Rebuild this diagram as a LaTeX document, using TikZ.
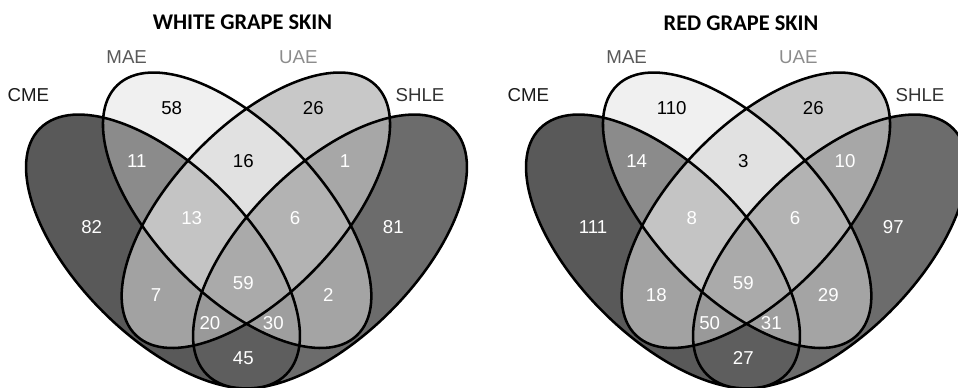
\documentclass[tikz,border=0pt]{standalone}
\usepackage{fontspec}
\setmainfont{Liberation Sans}
\newfontfamily\headfont{Carlito}

\definecolor{fillc}{HTML}{595959}
\definecolor{fillm}{HTML}{F0F0F0}
\definecolor{fillu}{HTML}{C8C8C8}
\definecolor{fills}{HTML}{6C6C6C}
\definecolor{fillcm}{HTML}{8B8B8B}
\definecolor{fillcu}{HTML}{A2A2A2}
\definecolor{fillcs}{HTML}{5E5E5E}
\definecolor{fillmu}{HTML}{E1E1E1}
\definecolor{fillms}{HTML}{A4A4A4}
\definecolor{fillus}{HTML}{A7A7A7}
\definecolor{fillcmu}{HTML}{C4C4C4}
\definecolor{fillcms}{HTML}{9E9E9E}
\definecolor{fillcus}{HTML}{999999}
\definecolor{fillmus}{HTML}{B3B3B3}
\definecolor{fillcmus}{HTML}{AAAAAA}

% the four ellipses of one diagram
\newcommand{\cmeshape}{(163,251.5) ellipse [x radius=174, y radius=85, rotate=45]}
\newcommand{\maeshape}{(237.15,210.25) ellipse [x radius=173.2, y radius=83.5, rotate=46.2]}
\newcommand{\uaeshape}{(255.85,210.25) ellipse [x radius=173.2, y radius=83.5, rotate=-46.2]}
\newcommand{\shleshape}{(330,251.5) ellipse [x radius=174, y radius=85, rotate=-45]}

% shaded regions, painted from single sets up to all four
\newcommand{\vennshades}{%
  \fill[fillc] \cmeshape;
  \fill[fillm] \maeshape;
  \fill[fillu] \uaeshape;
  \fill[fills] \shleshape;
  \begin{scope} \clip \cmeshape; \fill[fillcm] \maeshape; \end{scope}
  \begin{scope} \clip \cmeshape; \fill[fillcu] \uaeshape; \end{scope}
  \begin{scope} \clip \cmeshape; \fill[fillcs] \shleshape; \end{scope}
  \begin{scope} \clip \maeshape; \fill[fillmu] \uaeshape; \end{scope}
  \begin{scope} \clip \maeshape; \fill[fillms] \shleshape; \end{scope}
  \begin{scope} \clip \uaeshape; \fill[fillus] \shleshape; \end{scope}
  \begin{scope} \clip \cmeshape; \clip \maeshape; \fill[fillcmu] \uaeshape; \end{scope}
  \begin{scope} \clip \cmeshape; \clip \maeshape; \fill[fillcms] \shleshape; \end{scope}
  \begin{scope} \clip \cmeshape; \clip \uaeshape; \fill[fillcus] \shleshape; \end{scope}
  \begin{scope} \clip \maeshape; \clip \uaeshape; \fill[fillmus] \shleshape; \end{scope}
  \begin{scope} \clip \cmeshape; \clip \maeshape; \clip \uaeshape; \fill[fillcmus] \shleshape; \end{scope}
  \draw[vennline] \cmeshape \maeshape \uaeshape \shleshape;
}

\tikzset{
  vennline/.style={line width=1.9pt, black},
  numwhite/.style={text=white, font=\fontsize{14}{16}\selectfont},
  numblack/.style={text=black, font=\fontsize{14}{16}\selectfont},
  setlabel/.style={font=\fontsize{14}{16}\selectfont},
  heading/.style={font=\headfont\bfseries\fontsize{16.8}{20}\selectfont}
}

\begin{document}
\begin{tikzpicture}[x=0.75pt,y=0.75pt,yscale=-1,xscale=1]
        \useasboundingbox (0,0) rectangle (958,387);
        \begin{scope}
        \clip (0,0) rectangle (958,387);

        % white grape skin
        \vennshades
        \node[heading] (wtitle) at (242.5,22.5) {WHITE GRAPE SKIN};
        \node[setlabel, text=black!90] (wcme) at (28.3,95) {CME};
        \node[setlabel, text=black!65] (wmae) at (126.7,56.7) {MAE};
        \node[setlabel, text=black!45] (wuae) at (298.3,56.7) {UAE};
        \node[setlabel, text=black!80] (wshle) at (420,95) {SHLE};
        \node[numblack] (wm) at (171.7,108.3) {58};
        \node[numblack] (wu) at (313.3,108.3) {26};
        \node[numwhite] (wcm) at (136.7,160.7) {11};
        \node[numblack] (wmu) at (243.3,160.7) {16};
        \node[numwhite] (wus) at (345,160.7) {1};
        \node[numwhite] (wc) at (91.7,226.7) {82};
        \node[numwhite] (wcmu) at (191.7,218.3) {13};
        \node[numwhite] (wmus) at (295,218.3) {6};
        \node[numwhite] (ws) at (393.3,226.7) {81};
        \node[numwhite] (wall) at (243.3,283.3) {59};
        \node[numwhite] (wcu) at (156,295) {7};
        \node[numwhite] (wms) at (328.3,295) {2};
        \node[numwhite] (wcus) at (210,323.3) {20};
        \node[numwhite] (wcms) at (273.3,323.3) {30};
        \node[numwhite] (wcs) at (243.3,358.3) {45};

        % red grape skin
        \begin{scope}[shift={(500,0)}]
        \vennshades
        \node[heading] (rtitle) at (241,23) {RED GRAPE SKIN};
        \node[setlabel, text=black!90] (rcme) at (28.3,95) {CME};
        \node[setlabel, text=black!65] (rmae) at (126.7,56.7) {MAE};
        \node[setlabel, text=black!45] (ruae) at (298.3,56.7) {UAE};
        \node[setlabel, text=black!80] (rshle) at (420,95) {SHLE};
        \node[numblack] (rm) at (171.7,108.3) {110};
        \node[numblack] (ru) at (313.3,108.3) {26};
        \node[numwhite] (rcm) at (136.7,160.7) {14};
        \node[numblack] (rmu) at (243.3,160.7) {3};
        \node[numwhite] (rus) at (345,160.7) {10};
        \node[numwhite] (rc) at (93,226.7) {111};
        \node[numwhite] (rcmu) at (191.7,218.3) {8};
        \node[numwhite] (rmus) at (295,218.3) {6};
        \node[numwhite] (rs) at (393.3,226.7) {97};
        \node[numwhite] (rall) at (243.3,283.3) {59};
        \node[numwhite] (rcu) at (156.3,295) {18};
        \node[numwhite] (rms) at (328.3,295) {29};
        \node[numwhite] (rcus) at (209.7,323.3) {50};
        \node[numwhite] (rcms) at (271.3,323.3) {31};
        \node[numwhite] (rcs) at (243.3,358.3) {27};
        \end{scope}
        \end{scope}
\end{tikzpicture}
\end{document}
